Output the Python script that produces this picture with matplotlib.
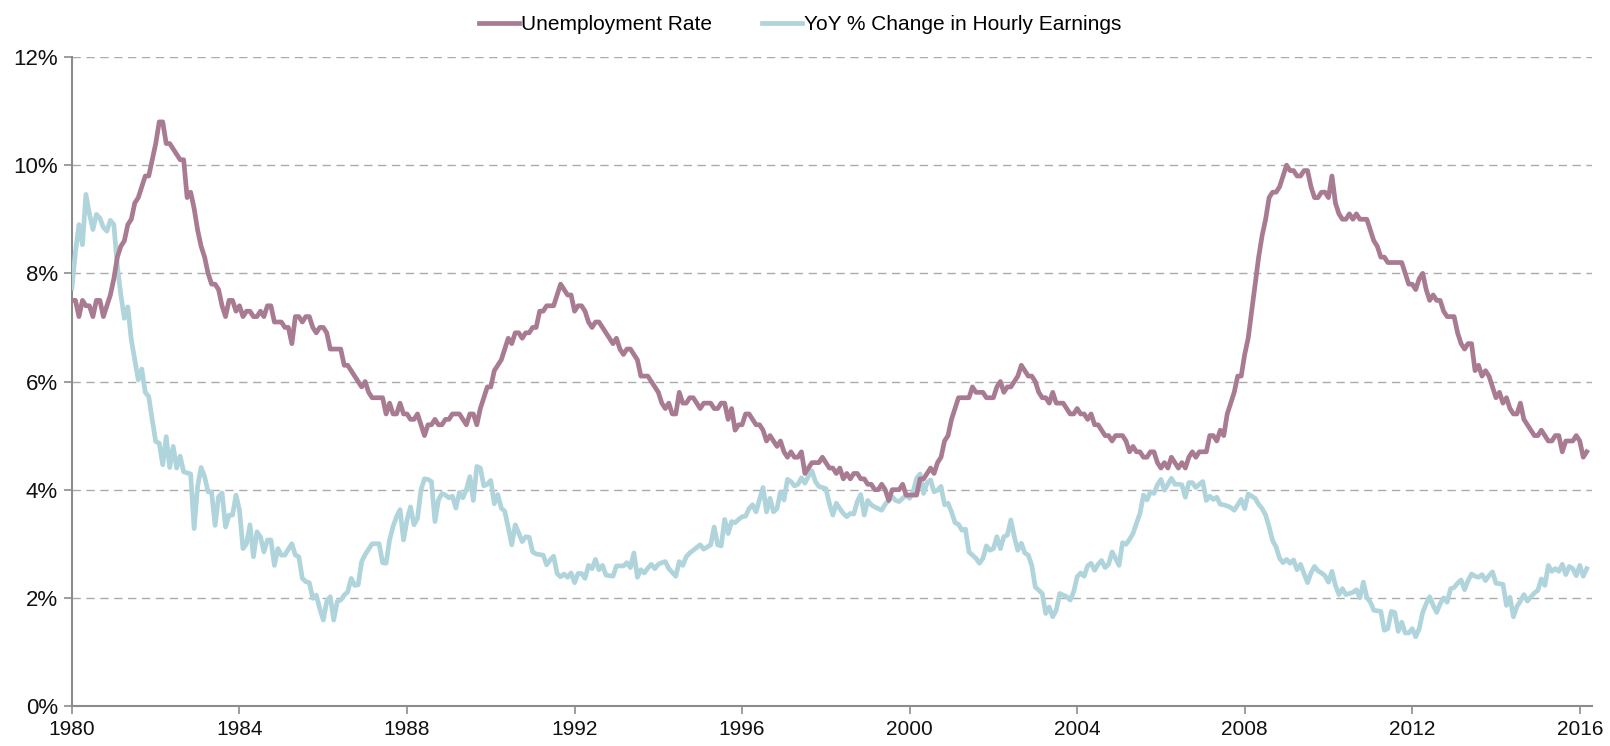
import matplotlib
matplotlib.use("Agg")
import matplotlib.pyplot as plt
from matplotlib import font_manager
import numpy as np

# monthly series, Oct 1980 .. Dec 2016 (first row is Oct-Dec 1980)
unemployment = [
    7.5, 7.5, 7.2,
    7.5, 7.4, 7.4, 7.2, 7.5, 7.5, 7.2, 7.4, 7.6, 7.9, 8.3, 8.5,
    8.6, 8.9, 9.0, 9.3, 9.4, 9.6, 9.8, 9.8, 10.1, 10.4, 10.8, 10.8,
    10.4, 10.4, 10.3, 10.2, 10.1, 10.1, 9.4, 9.5, 9.2, 8.8, 8.5, 8.3,
    8.0, 7.8, 7.8, 7.7, 7.4, 7.2, 7.5, 7.5, 7.3, 7.4, 7.2, 7.3,
    7.3, 7.2, 7.2, 7.3, 7.2, 7.4, 7.4, 7.1, 7.1, 7.1, 7.0, 7.0,
    6.7, 7.2, 7.2, 7.1, 7.2, 7.2, 7.0, 6.9, 7.0, 7.0, 6.9, 6.6,
    6.6, 6.6, 6.6, 6.3, 6.3, 6.2, 6.1, 6.0, 5.9, 6.0, 5.8, 5.7,
    5.7, 5.7, 5.7, 5.4, 5.6, 5.4, 5.4, 5.6, 5.4, 5.4, 5.3, 5.3,
    5.4, 5.2, 5.0, 5.2, 5.2, 5.3, 5.2, 5.2, 5.3, 5.3, 5.4, 5.4,
    5.4, 5.3, 5.2, 5.4, 5.4, 5.2, 5.5, 5.7, 5.9, 5.9, 6.2, 6.3,
    6.4, 6.6, 6.8, 6.7, 6.9, 6.9, 6.8, 6.9, 6.9, 7.0, 7.0, 7.3,
    7.3, 7.4, 7.4, 7.4, 7.6, 7.8, 7.7, 7.6, 7.6, 7.3, 7.4, 7.4,
    7.3, 7.1, 7.0, 7.1, 7.1, 7.0, 6.9, 6.8, 6.7, 6.8, 6.6, 6.5,
    6.6, 6.6, 6.5, 6.4, 6.1, 6.1, 6.1, 6.0, 5.9, 5.8, 5.6, 5.5,
    5.6, 5.4, 5.4, 5.8, 5.6, 5.6, 5.7, 5.7, 5.6, 5.5, 5.6, 5.6,
    5.6, 5.5, 5.5, 5.6, 5.6, 5.3, 5.5, 5.1, 5.2, 5.2, 5.4, 5.4,
    5.3, 5.2, 5.2, 5.1, 4.9, 5.0, 4.9, 4.8, 4.9, 4.7, 4.6, 4.7,
    4.6, 4.6, 4.7, 4.3, 4.4, 4.5, 4.5, 4.5, 4.6, 4.5, 4.4, 4.4,
    4.3, 4.4, 4.2, 4.3, 4.2, 4.3, 4.3, 4.2, 4.2, 4.1, 4.1, 4.0,
    4.0, 4.1, 4.0, 3.8, 4.0, 4.0, 4.0, 4.1, 3.9, 3.9, 3.9, 3.9,
    4.2, 4.2, 4.3, 4.4, 4.3, 4.5, 4.6, 4.9, 5.0, 5.3, 5.5, 5.7,
    5.7, 5.7, 5.7, 5.9, 5.8, 5.8, 5.8, 5.7, 5.7, 5.7, 5.9, 6.0,
    5.8, 5.9, 5.9, 6.0, 6.1, 6.3, 6.2, 6.1, 6.1, 6.0, 5.8, 5.7,
    5.7, 5.6, 5.8, 5.6, 5.6, 5.6, 5.5, 5.4, 5.4, 5.5, 5.4, 5.4,
    5.3, 5.4, 5.2, 5.2, 5.1, 5.0, 5.0, 4.9, 5.0, 5.0, 5.0, 4.9,
    4.7, 4.8, 4.7, 4.7, 4.6, 4.6, 4.7, 4.7, 4.5, 4.4, 4.5, 4.4,
    4.6, 4.5, 4.4, 4.5, 4.4, 4.6, 4.7, 4.6, 4.7, 4.7, 4.7, 5.0,
    5.0, 4.9, 5.1, 5.0, 5.4, 5.6, 5.8, 6.1, 6.1, 6.5, 6.8, 7.3,
    7.8, 8.3, 8.7, 9.0, 9.4, 9.5, 9.5, 9.6, 9.8, 10.0, 9.9, 9.9,
    9.8, 9.8, 9.9, 9.9, 9.6, 9.4, 9.4, 9.5, 9.5, 9.4, 9.8, 9.3,
    9.1, 9.0, 9.0, 9.1, 9.0, 9.1, 9.0, 9.0, 9.0, 8.8, 8.6, 8.5,
    8.3, 8.3, 8.2, 8.2, 8.2, 8.2, 8.2, 8.0, 7.8, 7.8, 7.7, 7.9,
    8.0, 7.7, 7.5, 7.6, 7.5, 7.5, 7.3, 7.2, 7.2, 7.2, 6.9, 6.7,
    6.6, 6.7, 6.7, 6.2, 6.3, 6.1, 6.2, 6.1, 5.9, 5.7, 5.8, 5.6,
    5.7, 5.5, 5.4, 5.4, 5.6, 5.3, 5.2, 5.1, 5.0, 5.0, 5.1, 5.0,
    4.9, 4.9, 5.0, 5.0, 4.7, 4.9, 4.9, 4.9, 5.0, 4.9, 4.6, 4.7,
]

hourly_earnings_yoy = [
    7.73, 8.4, 8.9,
    8.53, 9.46, 9.1, 8.81, 9.09, 9.02, 8.85, 8.78, 8.98, 8.9, 8.13, 7.6,
    7.17, 7.38, 6.77, 6.4, 6.03, 6.23, 5.8, 5.72, 5.29, 4.89, 4.86, 4.46,
    4.98, 4.41, 4.8, 4.4, 4.62, 4.33, 4.31, 4.29, 3.28, 4.06, 4.41, 4.24,
    3.96, 3.96, 3.34, 3.87, 3.94, 3.31, 3.53, 3.53, 3.9, 3.62, 2.91, 3.0,
    3.35, 2.76, 3.22, 3.13, 2.85, 3.07, 3.07, 2.6, 2.91, 2.79, 2.79, 2.9,
    3.0, 2.79, 2.76, 2.36, 2.3, 2.28, 1.99, 2.05, 1.8, 1.59, 1.93, 2.02,
    1.59, 1.93, 1.96, 2.05, 2.11, 2.36, 2.23, 2.24, 2.67, 2.8, 2.9, 3.0,
    3.0, 3.0, 2.65, 2.64, 3.07, 3.32, 3.5, 3.63, 3.07, 3.44, 3.68, 3.35,
    3.47, 4.0, 4.2, 4.19, 4.15, 3.41, 3.81, 3.93, 3.9, 3.85, 3.88, 3.66,
    3.95, 3.85, 4.0, 4.24, 3.8, 4.43, 4.4, 4.07, 4.1, 4.17, 3.74, 3.91,
    3.66, 3.6, 3.3, 2.98, 3.35, 3.2, 3.04, 3.13, 3.12, 2.85, 2.81, 2.8,
    2.79, 2.61, 2.7, 2.77, 2.45, 2.39, 2.44, 2.38, 2.46, 2.28, 2.45, 2.45,
    2.36, 2.6, 2.54, 2.71, 2.52, 2.6, 2.42, 2.41, 2.4, 2.59, 2.59, 2.59,
    2.65, 2.56, 2.83, 2.38, 2.52, 2.46, 2.55, 2.62, 2.54, 2.62, 2.65, 2.67,
    2.54, 2.47, 2.4, 2.67, 2.6, 2.76, 2.83, 2.88, 2.93, 2.98, 2.9, 2.94,
    2.98, 3.31, 2.98, 2.96, 3.45, 3.19, 3.41, 3.39, 3.45, 3.5, 3.51, 3.65,
    3.72, 3.59, 3.82, 4.04, 3.59, 3.84, 3.59, 3.65, 3.96, 3.81, 4.19, 4.15,
    4.07, 4.1, 4.22, 4.12, 4.25, 4.35, 4.15, 4.06, 4.04, 4.02, 3.75, 3.53,
    3.75, 3.65, 3.56, 3.5, 3.56, 3.55, 3.78, 3.91, 3.53, 3.8, 3.72, 3.68,
    3.65, 3.62, 3.73, 3.8, 3.87, 3.8, 3.78, 3.84, 3.9, 3.84, 3.96, 4.21,
    4.29, 3.93, 4.13, 4.18, 3.96, 3.99, 4.06, 3.72, 3.75, 3.59, 3.39, 3.36,
    3.25, 3.27, 2.85, 2.79, 2.73, 2.64, 2.73, 2.96, 2.88, 2.91, 3.13, 2.91,
    3.13, 3.16, 3.44, 3.13, 2.88, 3.01, 2.83, 2.79, 2.6, 2.2, 2.14, 2.08,
    1.71, 1.83, 1.65, 1.77, 2.08, 2.05, 2.02, 1.96, 2.11, 2.39, 2.46, 2.4,
    2.59, 2.64, 2.51, 2.62, 2.69, 2.56, 2.62, 2.85, 2.73, 2.6, 3.02, 2.99,
    3.08, 3.19, 3.38, 3.56, 3.9, 3.81, 3.96, 3.93, 4.09, 4.19, 3.99, 4.1,
    4.21, 4.1, 4.1, 4.09, 3.86, 4.13, 4.13, 4.04, 4.1, 4.15, 3.8, 3.88,
    3.82, 3.86, 3.73, 3.72, 3.7, 3.67, 3.62, 3.72, 3.82, 3.65, 3.92, 3.88,
    3.84, 3.73, 3.65, 3.53, 3.31, 3.06, 2.94, 2.73, 2.65, 2.71, 2.64, 2.7,
    2.52, 2.62, 2.45, 2.28, 2.46, 2.58, 2.5, 2.46, 2.41, 2.29, 2.49, 2.23,
    2.06, 2.17, 2.06, 2.08, 2.1, 2.15, 2.0, 2.29, 2.01, 1.92, 1.77, 1.76,
    1.75, 1.4, 1.43, 1.75, 1.73, 1.38, 1.55, 1.35, 1.35, 1.43, 1.28, 1.43,
    1.73, 1.89, 2.02, 1.86, 1.73, 1.89, 2.0, 1.92, 2.17, 2.19, 2.27, 2.33,
    2.15, 2.32, 2.44, 2.4, 2.38, 2.43, 2.32, 2.41, 2.48, 2.27, 2.26, 2.25,
    1.86, 2.01, 1.65, 1.84, 1.94, 2.06, 1.94, 2.02, 2.09, 2.14, 2.35, 2.23,
    2.6, 2.49, 2.54, 2.49, 2.62, 2.43, 2.58, 2.54, 2.41, 2.6, 2.40, 2.54,
]

tick_labels = ["1980", "1984", "1988", "1992", "1996", "2000", "2004", "2008", "2012", "2016"]
y_ticks = [0, 2, 4, 6, 8, 10, 12]

# narrow font if the system has it
available = {f.name for f in font_manager.fontManager.ttflist}
if "Liberation Sans Narrow" in available:
    plt.rcParams["font.family"] = ["Liberation Sans Narrow", "DejaVu Sans"]
    fs = 17
else:
    plt.rcParams["font.family"] = ["Liberation Sans", "DejaVu Sans"]
    fs = 15

red = "#A87B92"
blue = "#AFD4DC"
axis_grey = "#8C8C8C"

fig = plt.figure(figsize=(16.10, 7.46), dpi=100)
ax = fig.add_axes([0.0447, 0.0536, 0.9441, 0.870])

t = np.arange(len(unemployment))
ax.plot(t, hourly_earnings_yoy, color=blue, lw=3.4, solid_joinstyle="round",
        label="YoY % Change in Hourly Earnings", zorder=3)
ax.plot(t, unemployment, color=red, lw=3.4, solid_joinstyle="round",
        label="Unemployment Rate", zorder=4)

ax.set_xlim(0, 435.5)
ax.set_ylim(0, 12)
ax.set_xticks(np.arange(len(tick_labels)) * 48)
ax.set_xticklabels(tick_labels, fontsize=fs, color="#111111")
ax.set_yticks(y_ticks)
ax.set_yticklabels([f"{v}%" for v in y_ticks], fontsize=fs + 1, color="#111111")

for v in y_ticks[1:]:
    ax.axhline(v, color="#ABABAB", lw=1.0, ls=(0, (6, 4)), zorder=1)

for side in ("top", "right"):
    ax.spines[side].set_visible(False)
for side in ("left", "bottom"):
    ax.spines[side].set_color(axis_grey)
    ax.spines[side].set_linewidth(1.5)
ax.tick_params(axis="both", direction="out", length=6, width=1.2, color=axis_grey, pad=4)

handles, labels = ax.get_legend_handles_labels()
fig.legend(handles[::-1], labels[::-1], loc="upper center", bbox_to_anchor=(0.497, 1.005),
           ncol=2, frameon=False, fontsize=fs, handlelength=1.9, handletextpad=0.1,
           columnspacing=2.4)

fig.savefig("out.png", dpi=100)
